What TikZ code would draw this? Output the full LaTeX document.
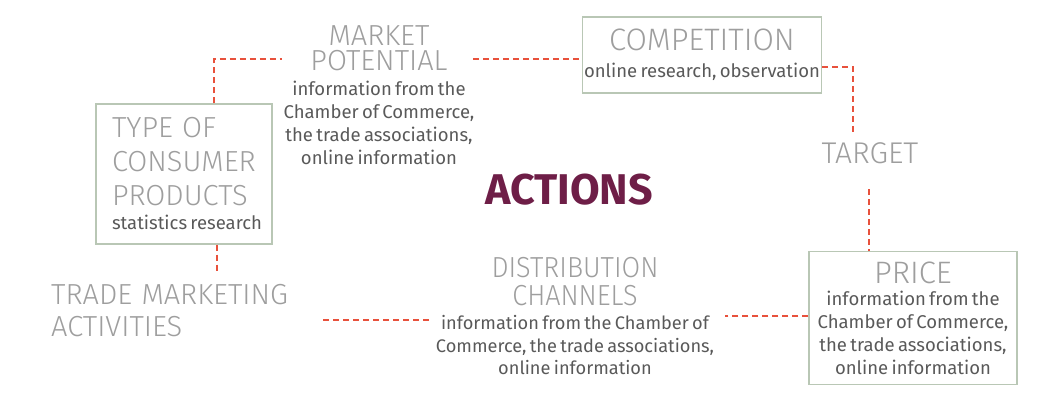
\documentclass[tikz,border=0pt]{standalone}
\usepackage{fontspec}
\setmainfont{Fira Sans}
\newfontfamily\lightfont{Fira Sans Light}
\newfontfamily\condlight{Fira Sans Light}[FakeStretch=0.93]
\usepackage{xcolor}

\definecolor{headgray}{HTML}{9E9E9E}
\definecolor{infogray}{HTML}{595959}
\definecolor{boxgreen}{HTML}{B9C7B5}
\definecolor{dashred}{HTML}{E8513C}
\definecolor{actionred}{HTML}{6E1E47}

\newcommand{\headfont}[2][29]{\lightfont\fontsize{#1}{#2}\selectfont\color{headgray}}
\newcommand{\infofont}[2][18.5]{\normalfont\fontsize{#1}{#2}\selectfont\color{infogray}}
\newcommand{\wgap}{\hspace{.32em}}

\tikzset{
	infobox/.style={draw=boxgreen, line width=1.2pt, inner ysep=0pt},
	link/.style={dashred, line width=1.4pt, dash pattern=on 6pt off 4pt},
}

\begin{document}
\begin{tikzpicture}[x=1pt, y=-1pt] % market research map
	\useasboundingbox (0,0) rectangle (1047,404);
	
	%boxes
	\node[infobox, minimum width=176pt, minimum height=140pt, text width=166pt, inner xsep=5pt, align=left] (typebox) at (184,174) {\leftskip=11pt\headfont{34} TYPE\wgap OF\\CONSUMER\\PRODUCTS\par\vspace{1pt}\infofont{23} statistics research\par};
	\node[infobox, minimum width=239pt, minimum height=76pt, text width=236pt, inner xsep=1.5pt, align=center] (comp) at (702,55) {\headfont[31]{34} COMPETITION\par\vspace{4pt}\infofont{23} online research, observation\par};
	\node[infobox, minimum width=208pt, minimum height=133pt, text width=204pt, inner xsep=2pt, align=center] (price) at (913,318) {\headfont[31]{34} PRICE\par\infofont{22.8} information from the\\Chamber of Commerce,\\the trade associations,\\online information\par};
	
	%free labels
	\node[anchor=north, text width=230pt, inner sep=0pt, align=center] (market) at (379,25) {\headfont{25} MARKET\\POTENTIAL\par\vspace{2pt}\infofont{23} information from the\\Chamber of Commerce,\\the trade associations,\\online information\par};
	\node[anchor=north, text width=300pt, inner sep=0pt, align=center] (distrib) at (575,257) {\headfont{28}\condlight DISTRIBUTION\\CHANNELS\par\vspace{2pt}\infofont[18.2]{22.5} information from the Chamber of\\Commerce, the trade associations,\\online information\par};
	\node[anchor=north west, text width=260pt, inner sep=0pt, align=left] (trade) at (51,284) {\headfont{32} TRADE\wgap MARKETING\\ACTIVITIES\par};
	\node[inner sep=0pt] (target) at (870,153) {\headfont[30]{30} TARGET};
	\node[inner sep=0pt, text=actionred, font=\bfseries\fontsize{43}{43}\selectfont] (actions) at (569,190) {ACTIONS};
	
	%links
	\coordinate (mpL) at (282,59);
	\coordinate (mpR) at (473,59);
	\coordinate (tpT) at (214,59);
	\coordinate (tpB) at (217,273);
	\coordinate (tgA) at (853,132);
	\coordinate (tgB) at (869,189);
	\coordinate (dcR) at (725,316);
	\coordinate (dcL) at (429,320);
	\coordinate (tmR) at (323,320);
	
	\draw[link] (tpT |- typebox.north) -- (tpT) -- (mpL);
	\draw[link] (mpR) -- (mpR -| comp.west);
	\draw[link] ([yshift=-12pt]comp.east) -| (tgA);
	\draw[link] (tgB) -- (tgB |- price.north);
	\draw[link] (price.west |- dcR) -- (dcR);
	\draw[link] (dcL) -- (tmR);
	\draw[link] (tpB |- typebox.south) -- (tpB);
	
\end{tikzpicture}
\end{document}
